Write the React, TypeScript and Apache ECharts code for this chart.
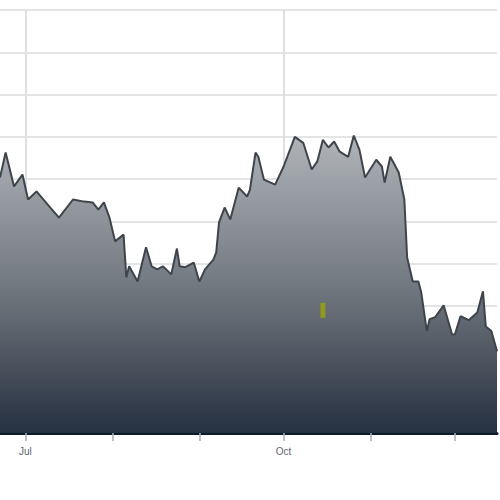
import { useEffect, useRef } from 'react'
import * as echarts from 'echarts'

// Daily closes (roughly one point per visible turn).
const DATES = [
  '2011-06-22', '2011-06-24', '2011-06-27', '2011-06-30', '2011-07-02', '2011-07-05',
  '2011-07-09', '2011-07-13', '2011-07-18', '2011-07-22', '2011-07-25', '2011-07-27',
  '2011-07-29', '2011-07-31', '2011-08-02', '2011-08-05', '2011-08-06', '2011-08-07',
  '2011-08-10', '2011-08-13', '2011-08-15', '2011-08-17', '2011-08-19', '2011-08-22',
  '2011-08-24', '2011-08-25', '2011-08-27', '2011-08-30', '2011-09-01', '2011-09-03',
  '2011-09-06', '2011-09-07', '2011-09-08', '2011-09-10', '2011-09-12', '2011-09-15',
  '2011-09-18', '2011-09-19', '2011-09-21', '2011-09-22', '2011-09-24', '2011-09-28',
  '2011-10-01', '2011-10-05', '2011-10-08', '2011-10-11', '2011-10-13', '2011-10-15',
  '2011-10-17', '2011-10-19', '2011-10-21', '2011-10-24', '2011-10-26', '2011-10-28',
  '2011-10-30', '2011-11-03', '2011-11-05', '2011-11-06', '2011-11-08', '2011-11-11',
  '2011-11-13', '2011-11-14', '2011-11-16', '2011-11-18', '2011-11-19', '2011-11-21',
  '2011-11-22', '2011-11-24', '2011-11-27', '2011-11-30', '2011-12-01', '2011-12-03',
  '2011-12-06', '2011-12-09', '2011-12-11', '2011-12-12', '2011-12-14', '2011-12-16',
]

const PRICES = [
  60.4, 66.3, 58.3, 61.1, 55.2, 57.1,
  54.0, 50.9, 55.2, 54.7, 54.5, 52.8,
  54.5, 50.9, 45.3, 46.9, 36.8, 39.4,
  35.8, 43.9, 39.4, 38.7, 39.4, 37.5,
  43.6, 39.4, 39.2, 40.3, 35.8, 38.7,
  41.0, 42.7, 49.8, 53.3, 50.5, 58.0,
  55.9, 57.5, 66.3, 65.3, 59.9, 58.7,
  63.0, 70.0, 68.6, 62.3, 64.2, 69.3,
  67.5, 68.9, 66.5, 65.3, 70.3, 67.0,
  60.4, 64.6, 63.0, 59.2, 65.3, 61.6,
  55.2, 41.5, 35.8, 35.8, 33.3, 24.1,
  26.9, 27.4, 30.2, 23.3, 23.3, 27.6,
  26.7, 28.5, 33.5, 25.2, 24.1, 19.3,
]

// Month labels shown under the axis (only quarter starts are labelled)
const LABELED_MONTHS = [
  { month: 6, text: 'Jul' },
  { month: 9, text: 'Oct' },
]
const GRID_MONTHS = ['2011-07-01', '2011-10-01']

// small olive event flag sitting inside the area
const EVENT_MARK = { date: '2011-10-15', value: 29 }

const COLOR = {
  line: '#3f444b',
  grid: '#e3e4e6',
  vgrid: '#dedfe1',
  axis: '#0b1a2c',
  tick: '#a9aeb4',
  label: '#5f6570',
  flag: '#8f9a1e',
}

export default function App() {
  const ref = useRef<HTMLDivElement>(null)

  useEffect(() => {
    const el = ref.current
    if (!el) return
    const chart = echarts.init(el, null, { renderer: 'svg' })
    const points = DATES.map((d, i) => [d, PRICES[i]])

    chart.setOption({
      animation: false,
      backgroundColor: '#ffffff',
      grid: { left: 0, right: 3, top: 10, bottom: 67 },
      xAxis: {
        type: 'time',
        min: DATES[0],
        max: DATES[DATES.length - 1],
        splitNumber: 6,
        axisLine: { lineStyle: { color: COLOR.axis, width: 3 } },
        axisTick: { show: true, length: 8, lineStyle: { color: COLOR.tick, width: 1.5 } },
        axisLabel: {
          color: COLOR.label,
          fontSize: 10,
          fontFamily: 'Arial, "Liberation Sans", sans-serif',
          margin: 13,
          showMinLabel: false,
          showMaxLabel: false,
          formatter: (v: number) => {
            const d = new Date(v)
            if (d.getDate() !== 1) return ''
            const hit = LABELED_MONTHS.find((m) => m.month === d.getMonth())
            return hit ? hit.text : ''
          },
        },
        splitLine: { show: false },
      },
      yAxis: {
        type: 'value',
        min: 0,
        max: 100,
        interval: 10,
        axisLine: { show: false },
        axisTick: { show: false },
        axisLabel: { show: false },
        splitLine: { lineStyle: { color: COLOR.grid, width: 2 } },
      },
      series: [
        {
          // carrier for the two vertical quarter lines, kept under the area
          type: 'line',
          z: 1,
          data: points,
          showSymbol: false,
          silent: true,
          lineStyle: { opacity: 0 },
          markLine: {
            z: 1,
            silent: true,
            symbol: ['none', 'none'],
            label: { show: false },
            lineStyle: { color: COLOR.vgrid, width: 2, type: 'solid' },
            data: GRID_MONTHS.map((d) => ({ xAxis: d })),
          },
        },
        {
          type: 'line',
          z: 3,
          data: points,
          showSymbol: false,
          lineStyle: { color: COLOR.line, width: 2 },
          areaStyle: {
            opacity: 1,
            color: new echarts.graphic.LinearGradient(0, 0, 0, 1, [
              { offset: 0, color: '#b0b4b9' },
              { offset: 0.5, color: '#737980' },
              { offset: 0.85, color: '#3d4653' },
              { offset: 1, color: '#253042' },
            ]),
          },
          markPoint: {
            silent: true,
            symbol: 'rect',
            symbolSize: [5, 15],
            label: { show: false },
            itemStyle: { color: COLOR.flag },
            data: [{ coord: [EVENT_MARK.date, EVENT_MARK.value] }],
          },
        },
      ],
    })

    return () => chart.dispose()
  }, [])

  return (
    <div
      ref={ref}
      style={{ position: 'fixed', left: 0, top: 0, width: 500, height: 500 }}
    />
  )
}
